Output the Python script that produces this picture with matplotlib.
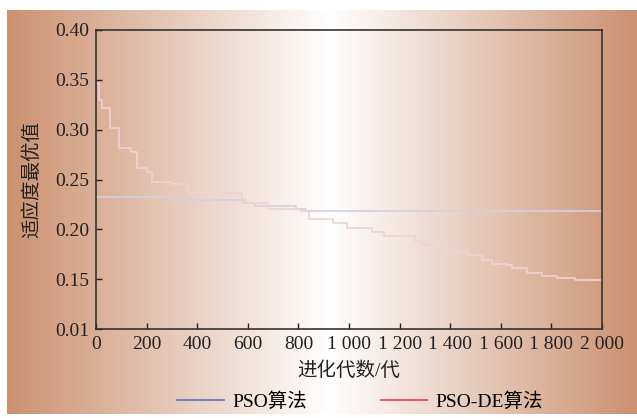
import numpy as np
import matplotlib
matplotlib.use('Agg')
import matplotlib.pyplot as plt

plt.rcParams['font.family'] = ['Liberation Serif', 'Noto Sans CJK SC']
plt.rcParams['axes.unicode_minus'] = False

# 读图得到的阶梯数据 (进化代数, 适应度最优值)
pso_gen = [0, 290, 590, 630, 790, 830, 2000]
pso_fit = [0.232, 0.229, 0.226, 0.223, 0.220, 0.218, 0.218]

psode_gen = [0, 10, 22, 55, 91, 138, 162, 202, 221, 300, 364, 577, 680, 810, 840,
             937, 992, 1091, 1138, 1261, 1289, 1387, 1431, 1471, 1526, 1565, 1625,
             1644, 1704, 1763, 1822, 1893, 2000]
psode_fit = [0.347, 0.330, 0.322, 0.302, 0.282, 0.278, 0.262, 0.258, 0.247, 0.245,
             0.236, 0.226, 0.220, 0.218, 0.210, 0.206, 0.201, 0.197, 0.193, 0.188,
             0.184, 0.179, 0.177, 0.174, 0.169, 0.165, 0.164, 0.161, 0.156, 0.153,
             0.151, 0.149, 0.149]

xticks = [0, 200, 400, 600, 800, 1000, 1200, 1400, 1600, 1800, 2000]
xlabels = ['0', '200', '400', '600', '800', '1 000', '1 200', '1 400', '1 600', '1 800', '2 000']
yticks = [0.10, 0.15, 0.20, 0.25, 0.30, 0.35, 0.40]
ylabels = ['0.01', '0.15', '0.20', '0.25', '0.30', '0.35', '0.40']

W, H = 637, 418
fig = plt.figure(figsize=(W / 100, H / 100), dpi=100)

# 背景渐变: 两边棕色, 中间白色
bg = fig.add_axes([7 / W, 4 / H, 630 / W, 404 / H], zorder=-5)
edge = np.array([204, 145, 112]) / 255.0
xs = np.linspace(7, 637, 630)
t = np.where(xs < 330, (330 - xs) / (330 - 7), (xs - 330) / (637 - 330))
t = np.clip(t, 0, 1)
col = 1 - t[:, None] * (1 - edge[None, :])
img = np.repeat(col[None, :, :], 2, axis=0)
bg.imshow(img, aspect='auto', extent=[0, 1, 0, 1])
bg.axis('off')

ax = fig.add_axes([96 / W, 1 - 329 / H, 506 / W, 299 / H])
ax.set_facecolor('none')
ax.step(pso_gen, pso_fit, where='post', color='#d2d0e2', lw=1.2)
ax.step(psode_gen, psode_fit, where='post', color='#f0d2d4', lw=1.2)

ax.set_xlim(0, 2000)
ax.set_ylim(0.10, 0.40)
ax.set_xticks(xticks)
ax.set_xticklabels(xlabels)
ax.set_yticks(yticks)
ax.set_yticklabels(ylabels)
ax.tick_params(direction='in', length=4, width=1, labelsize=14, pad=5, colors='#222222')
for s in ax.spines.values():
    s.set_color('#333333')
    s.set_linewidth(1.2)

ax.set_xlabel('进化代数/代', fontsize=14, labelpad=6, color='#222222')
ax.set_ylabel('适应度最优值', fontsize=14, labelpad=10, color='#222222')

h1, = ax.plot([], [], color='#5a6ac8', lw=1.2, label='PSO算法')
h2, = ax.plot([], [], color='#e8404a', lw=1.2, label='PSO-DE算法')
fig.legend(handles=[h1, h2], loc='center', bbox_to_anchor=(360 / W, 1 - 402 / H), ncol=2,
           frameon=False, fontsize=14, handlelength=2.4, columnspacing=3.8, handletextpad=0.4)

fig.savefig('out.png', dpi=100)
